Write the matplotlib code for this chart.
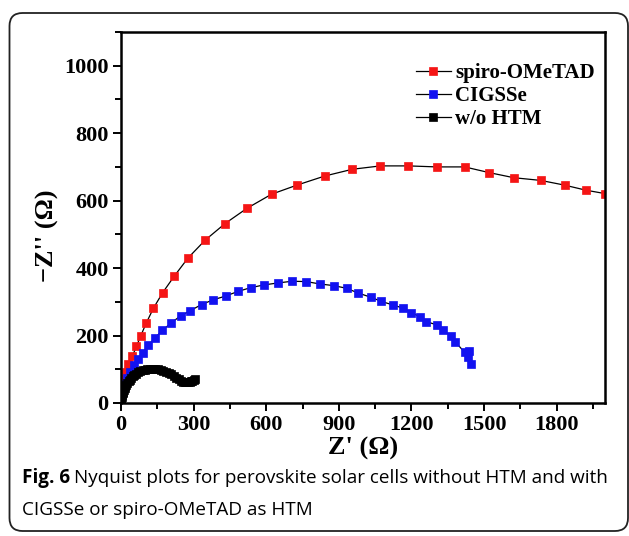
import matplotlib
matplotlib.use("Agg")
import matplotlib.pyplot as plt
from matplotlib.patches import FancyBboxPatch
from matplotlib.transforms import IdentityTransform
from matplotlib.ticker import MultipleLocator

# ---- data ----
spiro_x = [2, 5, 10, 19, 30, 47, 64, 82, 105, 134, 172, 221, 277, 348, 430, 520,
           622, 727, 842, 956, 1072, 1188, 1304, 1420, 1522, 1623, 1734, 1833, 1921, 1999]
spiro_y = [30, 52, 72, 92, 116, 139, 168, 200, 238, 281, 327, 377, 430, 483, 532, 577,
           619, 646, 673, 693, 703, 703, 700, 700, 683, 668, 660, 646, 631, 621]

cigsse_x = [2, 10, 17, 26, 37, 54, 72, 89, 113, 140, 171, 206, 246, 287, 333, 381, 432,
            484, 536, 590, 649, 707, 766, 821, 879, 933, 980, 1035, 1076, 1123, 1166,
            1200, 1234, 1262, 1304, 1330, 1362, 1382, 1420, 1437, 1432, 1446]
cigsse_y = [20, 39, 57, 74, 92, 112, 131, 149, 171, 193, 215, 237, 258, 274, 292, 306, 317,
            331, 342, 350, 356, 361, 360, 353, 348, 340, 326, 313, 301, 291, 281,
            268, 256, 241, 232, 216, 199, 181, 150, 155, 135, 115]

wo_x = [0, 1, 2, 3, 5, 7, 9, 12, 15, 18, 22, 26, 31, 36, 42, 48, 55, 63, 71, 80, 89, 99,
        109, 120, 131, 142, 153, 164, 175, 186, 197, 208, 219, 229, 239, 248, 256, 263,
        270, 277, 284, 290, 295, 300, 305]
wo_y = [3, 8, 13, 18, 24, 29, 34, 39, 44, 49, 54, 59, 64, 69, 74, 79, 83, 87, 91, 94, 97, 99,
        100, 101, 102, 102, 101, 99, 96, 93, 89, 85, 80, 75, 70, 66, 63, 62,
        61, 61, 62, 64, 66, 68, 70]

labels = ["spiro-OMeTAD", "CIGSSe", "w/o HTM"]
colors = ["#f51515", "#1212f0", "#000000"]

W, H, DPI = 629, 536, 100
fig = plt.figure(figsize=(W / DPI, H / DPI), dpi=DPI)
fig.patch.set_facecolor("white")

serif = "Liberation Serif"

ax = fig.add_axes([121 / W, (H - 403) / H, 484 / W, 371 / H])

ms = 6.0
for xs, ys, lab, c in zip([spiro_x, cigsse_x, wo_x], [spiro_y, cigsse_y, wo_y], labels, colors):
    ax.plot(xs, ys, color="black", lw=0.9, marker="s", ms=ms, mfc=c, mec=c,
            mew=0.5, label=lab, clip_on=True)

ax.set_xlim(0, 2000)
ax.set_ylim(0, 1100)
ax.xaxis.set_minor_locator(MultipleLocator(150))
ax.yaxis.set_minor_locator(MultipleLocator(100))
ax.set_xticks([0, 300, 600, 900, 1200, 1500, 1800])
ax.set_yticks([0, 200, 400, 600, 800, 1000])

ax.tick_params(which="both", direction="out", top=False, right=False, width=1.4)
ax.tick_params(which="major", length=6, pad=3)
ax.tick_params(which="minor", length=4)
for lbl in ax.get_xticklabels() + ax.get_yticklabels():
    lbl.set_fontfamily(serif)
    lbl.set_fontweight("bold")
    lbl.set_fontsize(16)
for sp in ax.spines.values():
    sp.set_linewidth(1.8)

ax.set_xlabel("Z' (\u03a9)", fontfamily=serif, fontweight="bold", fontsize=19, labelpad=1)
ax.set_ylabel("\u2212Z'' (\u03a9)", fontfamily=serif, fontweight="bold", fontsize=19)
ax.yaxis.set_label_coords(-0.128, 0.45)

leg = ax.legend(loc="upper right", bbox_to_anchor=(1.005, 0.95), frameon=False,
                prop={"family": serif, "weight": "bold", "size": 15},
                handlelength=1.7, handletextpad=0.2, labelspacing=0.15, borderaxespad=0.2)

# rounded border around the figure
border = FancyBboxPatch((9.5, 5), 618.5, 518, boxstyle="round,pad=0,rounding_size=13",
                        transform=IdentityTransform(), fill=False, edgecolor="#222222",
                        linewidth=1.3)
fig.add_artist(border)

# caption
cap_fs = 13.6
capfam = "Open Sans"
t1 = fig.text(22 / W, 1 - 478 / H, "Fig. 6", fontfamily=capfam, fontweight="bold",
              fontsize=cap_fs, va="center", ha="left")
fig.canvas.draw()
r = fig.canvas.get_renderer()
bb = t1.get_window_extent(r)
fig.text((bb.x1 + 4) / W, 1 - 478 / H,
         "Nyquist plots for perovskite solar cells without HTM and with",
         fontfamily=capfam, fontsize=cap_fs, va="center", ha="left")
fig.text(22 / W, 1 - 510 / H, "CIGSSe or spiro-OMeTAD as HTM",
         fontfamily=capfam, fontsize=cap_fs, va="center", ha="left")

fig.savefig("out.png", dpi=DPI)
